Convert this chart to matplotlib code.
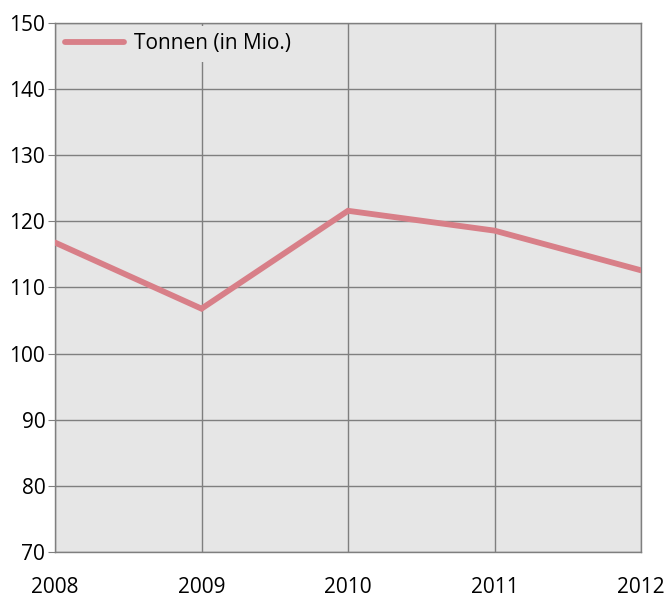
import matplotlib.pyplot as plt
import matplotlib.ticker as ticker

plt.rcParams['font.family'] = ['Open Sans', 'DejaVu Sans']

jahre = ['2008', '2009', '2010', '2011', '2012']
tonnen = [116.8, 106.8, 121.6, 118.6, 112.6]
y_ticks = [70, 80, 90, 100, 110, 120, 130, 140, 150]

grid_col = '#7f7f7f'
bg_col = '#e6e6e6'
line_col = '#d87f88'

fig = plt.figure(figsize=(6.67, 5.99), dpi=100)
ax = fig.add_axes([55 / 667, 1 - 552 / 599, (641 - 55) / 667, (552 - 23) / 599])
ax.set_facecolor(bg_col)

x = list(range(len(jahre)))
ax.plot(x, tonnen, color=line_col, lw=4.2, solid_capstyle='round',
        solid_joinstyle='miter', label='Tonnen (in Mio.)', zorder=3)

ax.set_xlim(0, len(jahre) - 1)
ax.set_ylim(70, 150)
ax.set_yticks(y_ticks)
ax.set_xticks(x)
ax.set_xticklabels(jahre)
ax.grid(True, color=grid_col, lw=1.0)
ax.set_axisbelow(True)
for s in ax.spines.values():
    s.set_color(grid_col)
    s.set_linewidth(1.0)

ax.tick_params(axis='y', length=5, color=grid_col, labelsize=15, pad=2)
ax.tick_params(axis='x', length=0, labelsize=15, pad=18)

leg = ax.legend(loc='upper left', frameon=True, fontsize=15, handlelength=2.8,
                borderaxespad=0.3, borderpad=0.2, handletextpad=0.5)
leg.get_frame().set_facecolor(bg_col)
leg.get_frame().set_edgecolor('none')
leg.get_frame().set_alpha(1)
leg.get_frame().set_boxstyle('square', pad=0.15)

plt.savefig('out.png', dpi=100)
